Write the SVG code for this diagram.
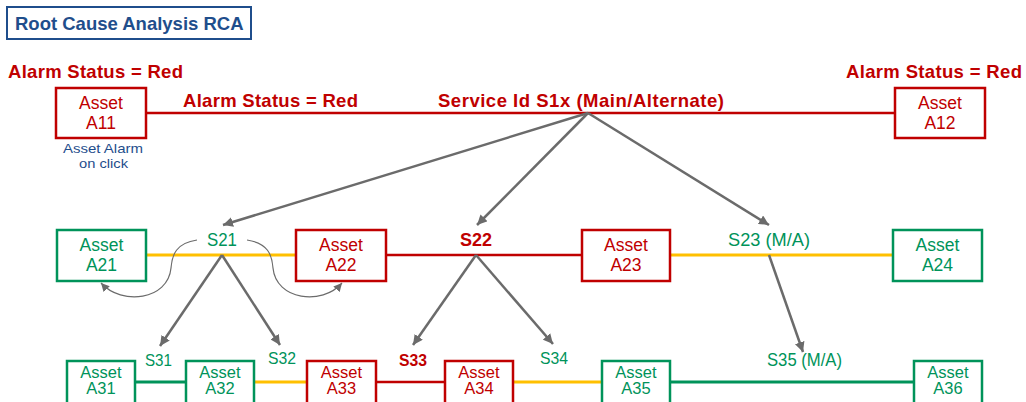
<svg xmlns="http://www.w3.org/2000/svg" width="1026" height="402" viewBox="0 0 1026 402">
  <style>
    text { font-family: "Liberation Sans", Arial, sans-serif; }
    .box { fill: #fff; stroke-width: 2.5; }
    .red { stroke: #C00000; }
    .grn { stroke: #00935A; }
    .tr { fill: #C00000; }
    .tg { fill: #00935A; }
    .nt { font-size: 17.5px; text-anchor: middle; }
    .ns { font-size: 16.5px; text-anchor: middle; }
    .alarm { font-size: 18.5px; font-weight: bold; fill: #C00000; }
    .lk { fill: none; }
    .lk-red { stroke: #C00000; stroke-width: 2.5; }
    .lk-yel { stroke: #FFC000; stroke-width: 3; }
    .lk-grn { stroke: #00935A; stroke-width: 3; }
    .arr { stroke: #6B6B6B; stroke-width: 2.5; fill: none; marker-end: url(#head); }
    .curve { stroke: #6B6B6B; stroke-width: 1.2; fill: none; marker-end: url(#headThin); }
  </style>
  <defs>
    <marker id="head" viewBox="0 0 10 10" refX="10" refY="5" markerWidth="4" markerHeight="4" orient="auto" markerUnits="strokeWidth">
      <path d="M0,0 L10,5 L0,10 z" fill="#6B6B6B"/>
    </marker>
    <marker id="headThin" viewBox="0 0 10 10" refX="10" refY="5" markerWidth="7" markerHeight="7" orient="auto" markerUnits="strokeWidth">
      <path d="M0,0 L10,5 L0,10 z" fill="#6B6B6B"/>
    </marker>
  </defs>

  <!-- title -->
  <g id="title">
    <rect x="7" y="7" width="244" height="32" fill="#fff" stroke="#1F4E8C" stroke-width="2"/>
    <text x="15" y="30" font-size="18.5" font-weight="bold" fill="#1F4E8C">Root Cause Analysis RCA</text>
  </g>

  <!-- status labels -->
  <g id="labels">
    <text class="alarm" x="8" y="78" textLength="175">Alarm Status = Red</text>
    <text class="alarm" x="846" y="78" textLength="176">Alarm Status = Red</text>
    <text class="alarm" x="183" y="107" textLength="175">Alarm Status = Red</text>
    <text class="alarm" x="438" y="107" textLength="286">Service Id S1x (Main/Alternate)</text>
    <text x="63" y="153" font-size="13" fill="#1F4E8C" textLength="80" lengthAdjust="spacingAndGlyphs">Asset Alarm</text>
    <text x="79" y="168" font-size="13" fill="#1F4E8C" textLength="49" lengthAdjust="spacingAndGlyphs">on click</text>
  </g>

  <!-- links between assets -->
  <g id="connectors">
    <line class="lk lk-red" x1="146" y1="113" x2="895" y2="113"/>

    <line class="lk lk-yel" x1="146" y1="255" x2="296" y2="255"/>
    <line class="lk lk-red" x1="386" y1="255" x2="582" y2="255"/>
    <line class="lk lk-yel" x1="670" y1="255" x2="893" y2="255"/>

    <line class="lk lk-grn" x1="135" y1="382" x2="186" y2="382"/>
    <line class="lk lk-yel" x1="254" y1="382" x2="307" y2="382"/>
    <line class="lk lk-red" x1="376" y1="382" x2="445" y2="382"/>
    <line class="lk lk-yel" x1="513" y1="382" x2="602" y2="382"/>
    <line class="lk lk-grn" x1="670" y1="382" x2="914" y2="382"/>

    <!-- service decomposition -->
    <line class="arr" x1="588" y1="113" x2="223" y2="225"/>
    <line class="arr" x1="588" y1="113" x2="477" y2="225"/>
    <line class="arr" x1="588" y1="113" x2="769" y2="225"/>

    <line class="arr" x1="222" y1="255" x2="160" y2="346"/>
    <line class="arr" x1="222" y1="255" x2="280" y2="345"/>
    <line class="arr" x1="476" y1="255" x2="413" y2="345"/>
    <line class="arr" x1="476" y1="255" x2="553" y2="344"/>
    <line class="arr" x1="769" y1="255" x2="803" y2="352"/>

    <!-- drill-down curves -->
    <path class="curve" d="M197,240 C176,243 172,255 171,268 C168,300 122,306 101,283"/>
    <path class="curve" d="M247,240 C268,243 272,255 273,268 C276,300 322,306 342,283"/>
  </g>

  <!-- service labels -->
  <g id="service-labels">
    <text class="tg" x="207" y="246" font-size="18" textLength="30" lengthAdjust="spacingAndGlyphs">S21</text>
    <text class="tr" x="460" y="246" font-size="17.5" font-weight="bold" textLength="32" lengthAdjust="spacingAndGlyphs">S22</text>
    <text class="tg" x="728" y="246" font-size="18" textLength="82" lengthAdjust="spacingAndGlyphs">S23 (M/A)</text>
    <text class="tg" x="145" y="366" font-size="17" textLength="27" lengthAdjust="spacingAndGlyphs">S31</text>
    <text class="tg" x="268" y="364" font-size="17" textLength="28" lengthAdjust="spacingAndGlyphs">S32</text>
    <text class="tr" x="399" y="366" font-size="17" font-weight="bold" textLength="28" lengthAdjust="spacingAndGlyphs">S33</text>
    <text class="tg" x="540" y="364" font-size="17" textLength="28" lengthAdjust="spacingAndGlyphs">S34</text>
    <text class="tg" x="767" y="366" font-size="17.5" textLength="75" lengthAdjust="spacingAndGlyphs">S35 (M/A)</text>
  </g>

  <!-- row 1 -->
  <g id="A11">
    <rect class="box red" x="56" y="88" width="90" height="50"/>
    <text class="nt tr" x="101" y="109">Asset</text>
    <text class="nt tr" x="101" y="129">A11</text>
  </g>
  <g id="A12">
    <rect class="box red" x="895" y="88" width="90" height="50"/>
    <text class="nt tr" x="940" y="109">Asset</text>
    <text class="nt tr" x="940" y="129">A12</text>
  </g>

  <!-- row 2 -->
  <g id="A21">
    <rect class="box grn" x="57" y="230" width="89" height="51"/>
    <text class="nt tg" x="101.5" y="251">Asset</text>
    <text class="nt tg" x="101.5" y="271">A21</text>
  </g>
  <g id="A22">
    <rect class="box red" x="296" y="230" width="90" height="51"/>
    <text class="nt tr" x="341" y="251">Asset</text>
    <text class="nt tr" x="341" y="271">A22</text>
  </g>
  <g id="A23">
    <rect class="box red" x="582" y="230" width="88" height="51"/>
    <text class="nt tr" x="626" y="251">Asset</text>
    <text class="nt tr" x="626" y="271">A23</text>
  </g>
  <g id="A24">
    <rect class="box grn" x="893" y="230" width="89" height="51"/>
    <text class="nt tg" x="937.5" y="251">Asset</text>
    <text class="nt tg" x="937.5" y="271">A24</text>
  </g>

  <!-- row 3 -->
  <g id="A31">
    <rect class="box grn" x="67" y="361" width="68" height="43"/>
    <text class="ns tg" x="101" y="378">Asset</text>
    <text class="ns tg" x="101" y="394">A31</text>
  </g>
  <g id="A32">
    <rect class="box grn" x="186" y="361" width="68" height="43"/>
    <text class="ns tg" x="220" y="378">Asset</text>
    <text class="ns tg" x="220" y="394">A32</text>
  </g>
  <g id="A33">
    <rect class="box red" x="307" y="361" width="69" height="43"/>
    <text class="ns tr" x="341.5" y="378">Asset</text>
    <text class="ns tr" x="341.5" y="394">A33</text>
  </g>
  <g id="A34">
    <rect class="box red" x="445" y="361" width="68" height="43"/>
    <text class="ns tr" x="479" y="378">Asset</text>
    <text class="ns tr" x="479" y="394">A34</text>
  </g>
  <g id="A35">
    <rect class="box grn" x="602" y="361" width="68" height="43"/>
    <text class="ns tg" x="636" y="378">Asset</text>
    <text class="ns tg" x="636" y="394">A35</text>
  </g>
  <g id="A36">
    <rect class="box grn" x="914" y="361" width="68" height="43"/>
    <text class="ns tg" x="948" y="378">Asset</text>
    <text class="ns tg" x="948" y="394">A36</text>
  </g>
</svg>
